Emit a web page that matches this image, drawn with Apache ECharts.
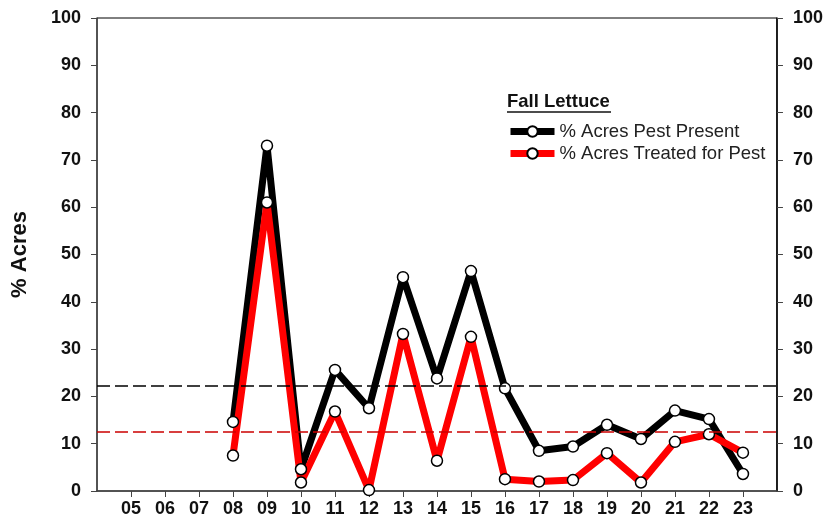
<!DOCTYPE html>
<html>
<head>
<meta charset="utf-8">
<script src="https://cdn.jsdelivr.net/npm/echarts@6/dist/echarts.min.js"></script>
<style>
  html, body { margin: 0; padding: 0; background: #fff; }
  #chart { width: 826px; height: 524px; }
</style>
</head>
<body>
<div id="chart"></div>
<script>
// Survey years (two-digit)
const years = ['05','06','07','08','09','10','11','12','13','14','15','16','17','18','19','20','21','22','23'];

// % of acres where the pest was present
const pestPresent = [null, null, null, 14.6, 73.0, 4.6, 25.6, 17.5, 45.2, 23.8, 46.5, 21.7, 8.5, 9.4, 14.0, 11.0, 17.0, 15.2, 3.6];

// % of acres treated for the pest
const treated = [null, null, null, 7.5, 61.0, 1.8, 16.8, 0.2, 33.2, 6.4, 32.6, 2.5, 2.0, 2.3, 8.0, 1.8, 10.4, 12.0, 8.1];

// Long-term reference levels (dashed lines)
const presentAvg = 22.3;
const treatedAvg = 12.5;

const yTicks = [0, 10, 20, 30, 40, 50, 60, 70, 80, 90, 100];

// Pad the category axis by one empty slot at each end
const cats = [''].concat(years, ['']);
const pad = arr => [null].concat(arr, [null]);

const FONT = '"Liberation Sans", Arial, sans-serif';
const labelStyle = { fontFamily: FONT, fontWeight: 'bold', fontSize: 18, color: '#111' };

const chart = echarts.init(document.getElementById('chart'), null, { renderer: 'canvas' });

function lineSeries(name, data, color, refValue, refColor) {
  return {
    name: name,
    type: 'line',
    data: pad(data),
    connectNulls: false,
    symbol: 'circle',
    symbolSize: 11,
    showAllSymbol: true,
    lineStyle: { color: color, width: 7, join: 'round', cap: 'round' },
    itemStyle: { color: '#fff', borderColor: '#000', borderWidth: 1.5 },
    emphasis: { disabled: true },
    markLine: {
      silent: true,
      symbol: 'none',
      label: { show: false },
      lineStyle: { color: refColor, type: [13, 5], width: 1.6 },
      data: [{ yAxis: refValue }]
    }
  };
}

chart.setOption({
  animation: false,
  backgroundColor: '#fff',
  grid: { left: 97, right: 49, top: 18, bottom: 33, show: true, borderColor: '#000', borderWidth: 1, backgroundColor: 'transparent' },
  xAxis: {
    type: 'category',
    data: cats,
    boundaryGap: false,
    axisLine: { lineStyle: { color: '#444', width: 1.5 } },
    axisTick: { show: true, length: 6, lineStyle: { color: '#444' }, interval: (i) => i > 0 && i < cats.length - 1 },
    axisLabel: Object.assign({ interval: 0, margin: 9 }, labelStyle),
    splitLine: { show: false }
  },
  yAxis: [
    {
      type: 'value', min: 0, max: 100, interval: 10,
      position: 'left',
      name: '% Acres',
      nameLocation: 'middle',
      nameGap: 66,
      nameTextStyle: { fontFamily: FONT, fontWeight: 'bold', fontSize: 22, color: '#111' },
      axisLine: { show: true, lineStyle: { color: '#444', width: 1.5 } },
      axisTick: { show: true, length: 6, lineStyle: { color: '#444' } },
      axisLabel: Object.assign({ margin: 16, formatter: v => yTicks.includes(v) ? String(v) : '' }, labelStyle),
      splitLine: { show: false }
    },
    {
      type: 'value', min: 0, max: 100, interval: 10,
      position: 'right',
      axisLine: { show: true, lineStyle: { color: '#000', width: 1.5 } },
      axisTick: { show: true, length: 6, lineStyle: { color: '#444' } },
      axisLabel: Object.assign({ margin: 16 }, labelStyle),
      splitLine: { show: false }
    }
  ],
  legend: {
    orient: 'vertical',
    left: 507,
    top: 122,
    padding: 0,
    itemWidth: 44,
    itemHeight: 13,
    itemGap: 3,
    textStyle: { fontFamily: FONT, fontSize: 18.5, color: '#222' },
    data: [
      { name: '% Acres Pest Present', lineStyle: { width: 7, cap: 'butt' } },
      { name: '% Acres Treated for Pest', lineStyle: { width: 7, cap: 'butt' } }
    ]
  },
  graphic: [
    {
      type: 'text',
      left: 507, top: 92,
      style: { text: 'Fall Lettuce', font: 'bold 18.5px ' + FONT, fill: '#111' }
    },
    {
      type: 'line',
      shape: { x1: 507, y1: 112, x2: 611, y2: 112 },
      style: { stroke: '#111', lineWidth: 1.5 }
    }
  ],
  series: [
    lineSeries('% Acres Pest Present', pestPresent, '#000', presentAvg, '#000'),
    lineSeries('% Acres Treated for Pest', treated, '#ff0000', treatedAvg, '#cc0000')
  ]
});
</script>
</body>
</html>
